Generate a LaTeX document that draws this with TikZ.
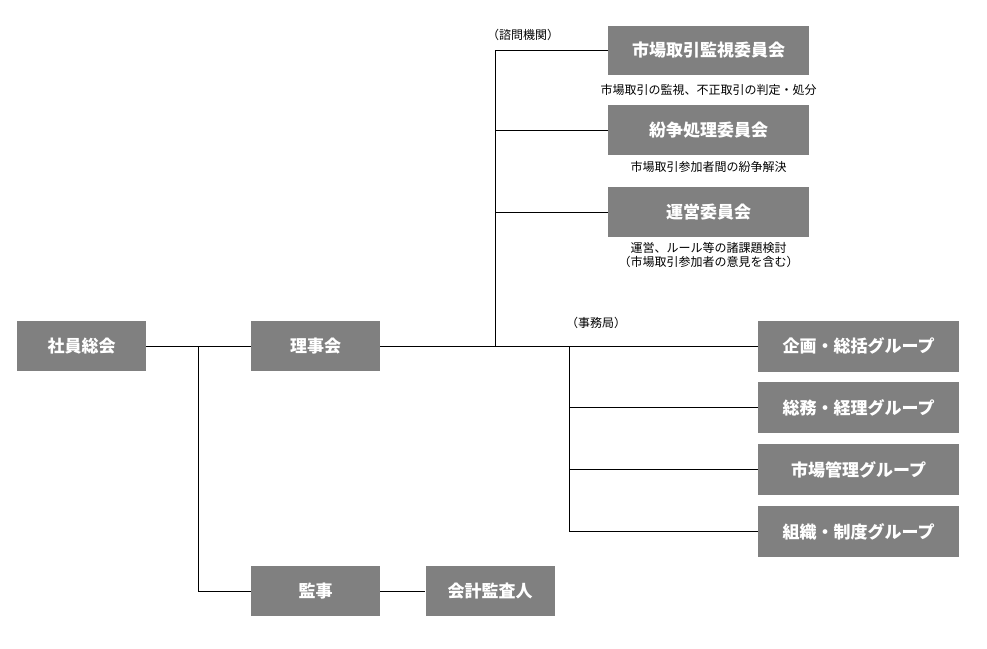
\documentclass[tikz,border=0pt]{standalone}
\usepackage{fontspec}
\setmainfont{Noto Sans CJK JP}
\usetikzlibrary{calc,positioning}
\definecolor{boxgray}{RGB}{128,128,128}
\tikzset{
  org/.style={fill=boxgray,text=white,font=\bfseries\fontsize{17}{20}\selectfont,minimum width=129pt,minimum height=50pt,inner sep=0pt},
  wide/.style={org,minimum width=201pt},
  desc/.style={font=\fontsize{12}{13.5}\selectfont,align=center,inner sep=0pt},
  link/.style={line width=0.9pt}
}

\begin{document}
\begin{tikzpicture}[x=1pt,y=-1pt]
\useasboundingbox (0,0) rectangle (987,648);
\node[org] (soukai) at (81.5,346) {社員総会};
\node[org] (riji) at (315.5,346) {理事会};
\node[org] (kanji) at (315.5,591) {監事};
\node[org] (kaikei) at (490,591) {会計監査人};
\node[wide,minimum height=49pt] (kanshi) at (708.5,50) {市場取引監視委員会};
\node[wide] (funso) at (708.5,130) {紛争処理委員会};
\node[wide] (unei) at (708.5,212) {運営委員会};
\node[desc,below=9pt of kanshi] (kanshitxt) {市場取引の監視、不正取引の判定・処分};
\node[desc,below=6pt of funso] (funsotxt) {市場取引参加者間の紛争解決};
\node[desc,below=5pt of unei] (ueitxt) {運営、ルール等の諸課題検討\\（市場取引参加者の意見を含む）};
\node[wide,minimum height=51pt] (g1) at (858.5,346) {企画・総括グループ};
\node[wide,minimum height=51pt] (g2) at (858.5,407.5) {総務・経理グループ};
\node[wide,minimum height=51pt] (g3) at (858.5,469.5) {市場管理グループ};
\node[wide,minimum height=51pt] (g4) at (858.5,531.5) {組織・制度グループ};
\node[desc,anchor=west] (shimon) at (487,35) {（諮問機関）};
\node[desc,anchor=west] (jimu) at (566,323) {（事務局）};
\coordinate (split) at ($(soukai.east)!0.5!(riji.west)$);
\coordinate (trunk) at (495,346);
\coordinate (office) at (569,346);
\draw[link] (soukai) -- (riji);
\draw[link] (split) |- (kanji.west);
\draw[link] (kanji) -- (kaikei);
\draw[link] (riji.east) -- (trunk) |- (kanshi.west);
\foreach \n in {funso,unei} \draw[link] (trunk |- \n.west) -- (\n.west);
\draw[link] (trunk) -- (office) |- (g4.west);
\foreach \n in {g1,g2,g3} \draw[link] (office |- \n.west) -- (\n.west);
\end{tikzpicture}
\end{document}
